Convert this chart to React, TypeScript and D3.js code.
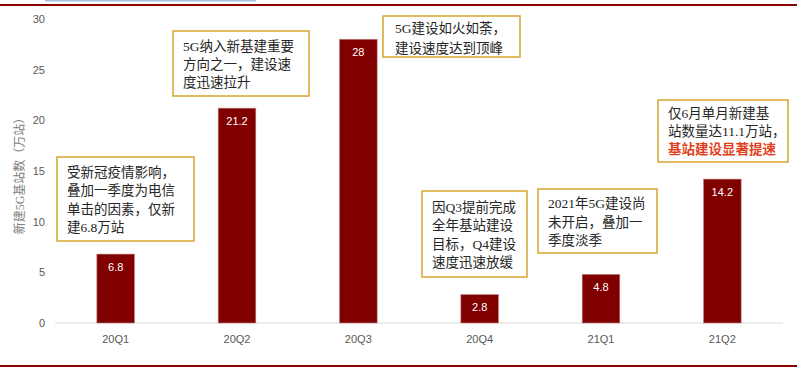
import * as d3 from 'd3';

const quarters = ['20Q1', '20Q2', '20Q3', '20Q4', '21Q1', '21Q2'];
const newStations = [6.8, 21.2, 28, 2.8, 4.8, 14.2];
const yTicks = [0, 5, 10, 15, 20, 25, 30];
const yTitle = '新建5G基站数（万站）';

const notes = [
  ['受新冠疫情影响，', '叠加一季度为电信', '单击的因素，仅新', '建6.8万站'],
  ['5G纳入新基建重要', '方向之一，建设速', '度迅速拉升'],
  ['5G建设如火如荼，', '建设速度达到顶峰'],
  ['因Q3提前完成', '全年基站建设', '目标，Q4建设', '速度迅速放缓'],
  ['2021年5G建设尚', '未开启，叠加一', '季度淡季'],
  ['仅6月单月新建基', '站数量达11.1万站，', '基站建设显著提速'],
];
// which lines of each note are highlighted in red
const highlighted = [[], [], [], [], [], [2]];

// box layout (px): left, top, width, height, first line baseline offset, line gap
const noteBoxes = [
  { x: 57, y: 157, w: 137, h: 84, pad: 10, first: 20, gap: 18.4 },
  { x: 173, y: 31, w: 136, h: 65, pad: 10, first: 20, gap: 18.2 },
  { x: 383, y: 16, w: 137, h: 41, pad: 12, first: 17, gap: 20 },
  { x: 422, y: 191, w: 105, h: 86, pad: 10, first: 21, gap: 18.4 },
  { x: 538, y: 189, w: 119, h: 64, pad: 10, first: 19, gap: 18.6 },
  { x: 658, y: 100, w: 130, h: 62, pad: 10, first: 18, gap: 18 },
];

const W = 797;
const H = 370;
const cjk = '"Liberation Serif", "Noto Sans CJK SC", serif';
const sans = '"Liberation Sans", "Noto Sans", sans-serif';

export default function App() {
  const x = d3.scaleBand<string>()
    .domain(quarters)
    .range([55, 783])
    .paddingInner(0.69)
    .paddingOuter(0.345);

  const y = d3.scaleLinear()
    .domain([0, 30])
    .range([323, 19]);

  return (
    <svg width={W} height={H} style={{ position: 'absolute', left: 0, top: 0, background: '#fff' }}>
      {/* page decorations */}
      <rect x={45} y={0} width={211} height={1.5} fill="#9dc3e6" />
      <rect x={0} y={4} width={W} height={2} fill="#8b0000" />
      <rect x={0} y={365} width={W} height={2} fill="#8b0000" />

      {/* y axis */}
      {yTicks.map(t => (
        <text key={t} x={45} y={y(t)} dy="0.35em" textAnchor="end"
          fontFamily={sans} fontSize={11} fill="#595959">{t}</text>
      ))}
      <text transform={`translate(20,173) rotate(-90)`} textAnchor="middle" dy="0.35em"
        fontFamily={cjk} fontSize={12} fill="#808080">{yTitle}</text>

      {/* baseline */}
      <line x1={55} x2={783} y1={y(0)} y2={y(0)} stroke="#d9d9d9" strokeWidth={1} />

      {/* bars */}
      {quarters.map((q, i) => (
        <g key={q}>
          <rect x={x(q)} y={y(newStations[i])} width={x.bandwidth()}
            height={y(0) - y(newStations[i])} fill="#800000" stroke="#c08080" strokeWidth={0.6} />
          <text x={x(q)! + x.bandwidth() / 2} y={y(newStations[i]) + 13} dy="0.35em"
            textAnchor="middle" fontFamily={sans} fontSize={11} fill="#fff">{newStations[i]}</text>
          <text x={x(q)! + x.bandwidth() / 2} y={y(0) + 16} dy="0.35em"
            textAnchor="middle" fontFamily={sans} fontSize={11} fill="#595959">{q}</text>
        </g>
      ))}

      {/* annotation boxes */}
      {notes.map((lines, i) => {
        const b = noteBoxes[i];
        return (
          <g key={i}>
            <rect x={b.x} y={b.y} width={b.w} height={b.h} fill="#fff" stroke="#d6a531" strokeWidth={1.5} />
            {lines.map((ln, j) => {
              const hot = highlighted[i].includes(j);
              return (
                <text key={j} x={b.x + b.pad} y={b.y + b.first + j * b.gap}
                  fontFamily={cjk} fontSize={13.5}
                  fill={hot ? '#e0401c' : '#262626'} fontWeight={hot ? 'bold' : 'normal'}>{ln}</text>
              );
            })}
          </g>
        );
      })}
    </svg>
  );
}
